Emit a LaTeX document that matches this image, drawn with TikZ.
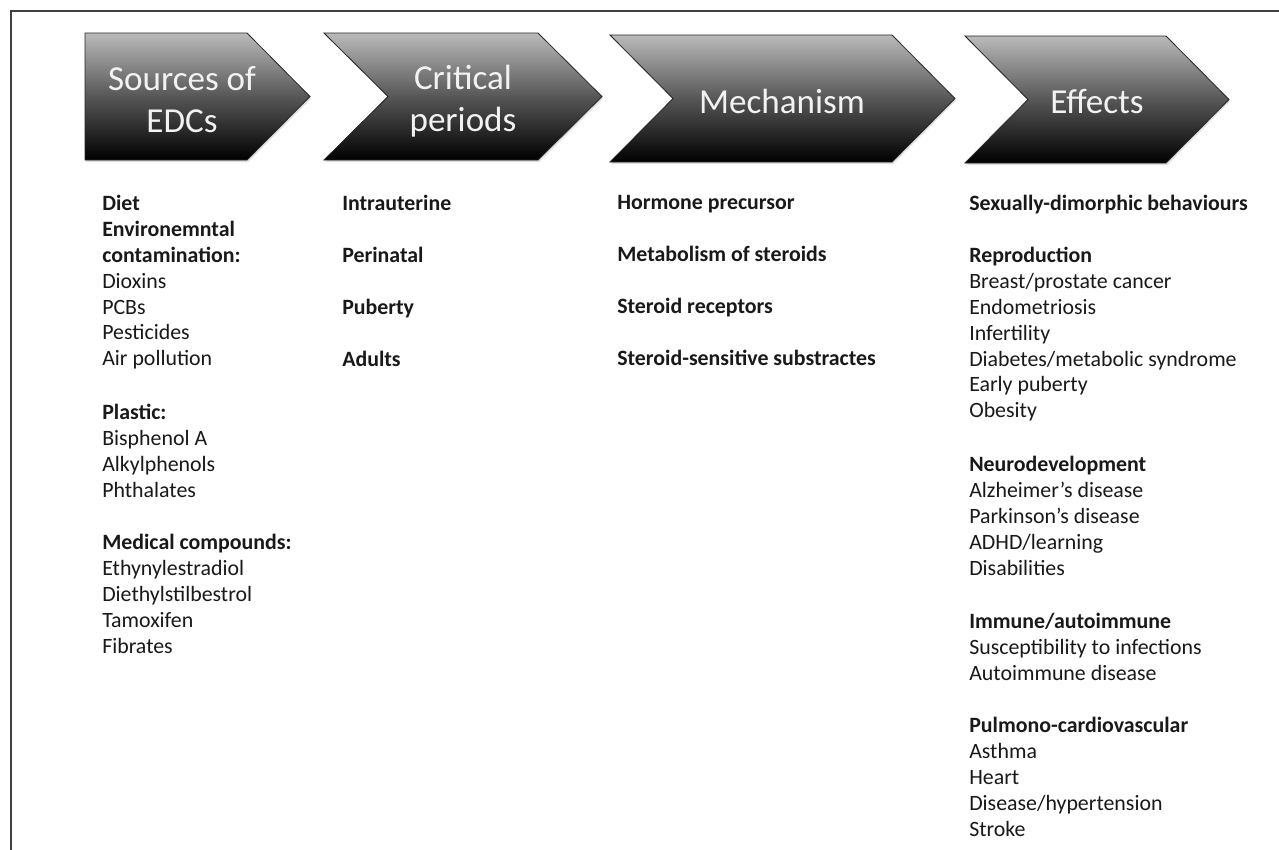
\documentclass[tikz,border=0pt]{standalone}
\usepackage{fontspec}
\setmainfont{Carlito}
\usetikzlibrary{shadows}

\begin{document}
\begin{tikzpicture}[x=0.75pt, y=-0.75pt,
    chevron/.style={draw=black!85, line width=0.6pt,
        top color=black!27, bottom color=black, middle color=black!66,
        drop shadow={opacity=0.25, shadow xshift=0.8pt, shadow yshift=-1.5pt}},
    head/.style={text=white!95!black, align=center,
        font=\fontsize{26.3}{31.5}\selectfont},
    column/.style={anchor=north west, inner sep=0pt, align=left,
        text=black!90, font=\fontsize{16.4}{19.4}\selectfont}]

   \useasboundingbox (0,0) rectangle (1279,850);
   \fill[white] (0,0) rectangle (1279,850);

   % page frame, cut off at the right and at the bottom
   \draw[black!75, line width=1.6pt] (11,850) -- (11,11) -- (1279,11);

   % the four chevrons
   \path[chevron] (85,33) -- (247,33) -- (310,96.5) -- (247,160) -- (85,160) -- cycle;
   \path[chevron] (324,33) -- (538,33) -- (602,96.5) -- (538,160) -- (324,160) -- (388,96.5) -- cycle;
   \path[chevron] (610,35) -- (892,35) -- (955,98.5) -- (892,162) -- (610,162) -- (673,98.5) -- cycle;
   \path[chevron] (965,36) -- (1166,36) -- (1229,99.5) -- (1166,163) -- (965,163) -- (1028,99.5) -- cycle;

   \node[head] (src)  at (182,100) {Sources of\\EDCs};
   \node[head] (crit) at (463,101) {Critical\\periods};
   \node[head] (mech) at (782,101) {Mechanism};
   \node[head] (eff)  at (1097,102) {Effects};

   % text under each chevron
   \node[column] (sources) at (102,195) {%
      \textbf{Diet}\\
      \textbf{Environemntal}\\
      \textbf{contamination:}\\
      Dioxins\\
      PCBs\\
      Pesticides\\
      Air pollution\\[21pt]
      \textbf{Plastic:}\\
      Bisphenol A\\
      Alkylphenols\\
      Phthalates\\[20pt]
      \textbf{Medical compounds:}\\
      Ethynylestradiol\\
      Diethylstilbestrol\\
      Tamoxifen\\
      Fibrates};
   \node[column] (periods) at (342,195) {%
      \textbf{Intrauterine}\\[19.6pt]
      \textbf{Perinatal}\\[19.6pt]
      \textbf{Puberty}\\[19.6pt]
      \textbf{Adults}};
   \node[column] (mechanisms) at (617,195) {%
      \textbf{Hormone precursor}\\[19.6pt]
      \textbf{Metabolism of steroids}\\[19.6pt]
      \textbf{Steroid receptors}\\[19.6pt]
      \textbf{Steroid-sensitive substractes}};
   \node[column] (effects) at (969,195) {%
      \textbf{Sexually-dimorphic behaviours}\\[19.6pt]
      \textbf{Reproduction}\\
      Breast/prostate cancer\\
      Endometriosis\\
      Infertility\\
      Diabetes/metabolic syndrome\\
      Early puberty\\
      Obesity\\[21pt]
      \textbf{Neurodevelopment}\\
      Alzheimer’s disease\\
      Parkinson’s disease\\
      ADHD/learning\\
      Disabilities\\[20.5pt]
      \textbf{Immune/autoimmune}\\
      Susceptibility to infections\\
      Autoimmune disease\\[20pt]
      \textbf{Pulmono-cardiovascular}\\
      Asthma\\
      Heart\\
      Disease/hypertension\\
      Stroke};
\end{tikzpicture}
\end{document}
